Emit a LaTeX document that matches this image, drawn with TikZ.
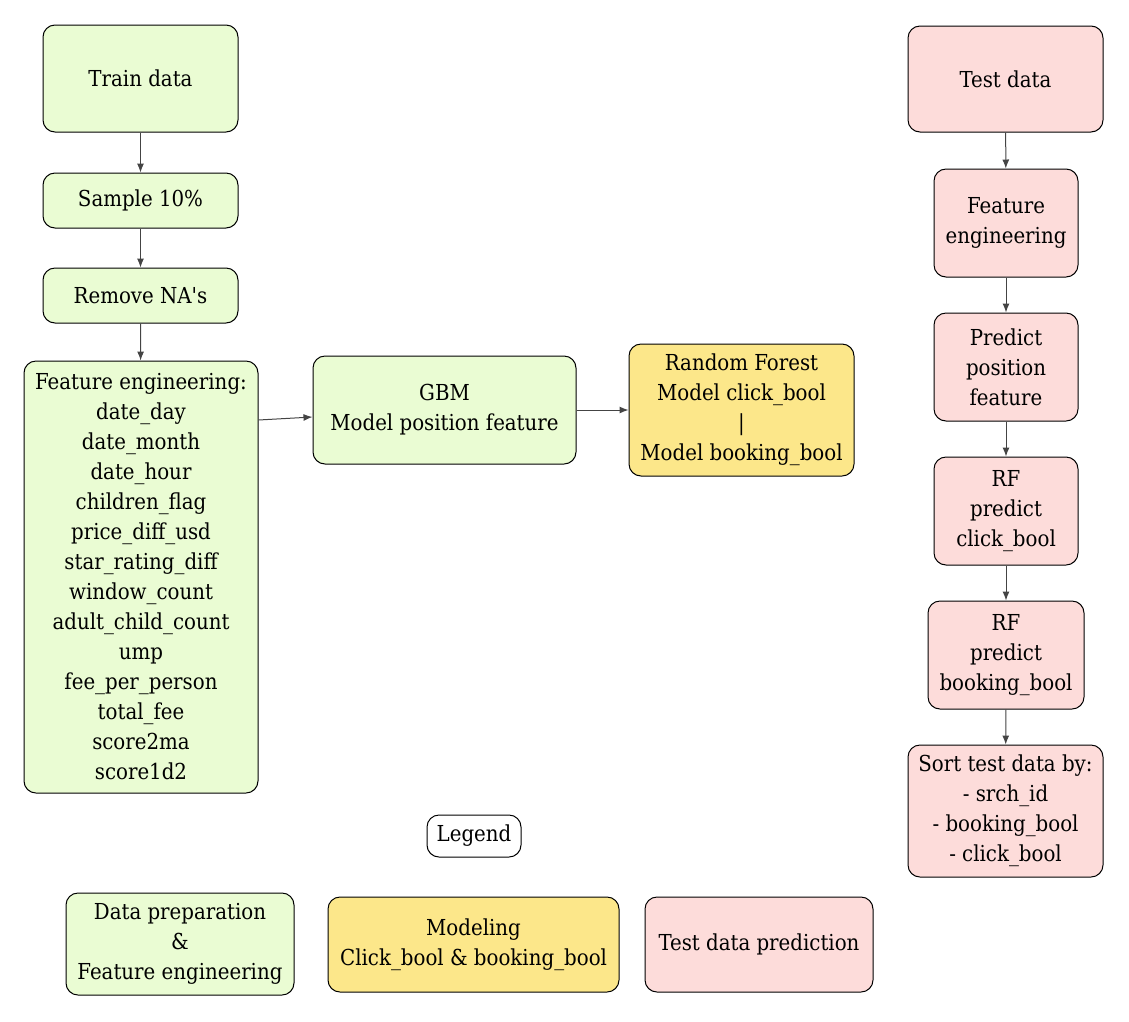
\documentclass[tikz,border=0pt]{standalone}
\usepackage{fontspec}
\setmainfont{DejaVu Serif Condensed}
\usetikzlibrary{arrows.meta}
\definecolor{prepgreen}{RGB}{234,252,211}
\definecolor{modelyellow}{RGB}{252,231,138}
\definecolor{testpink}{RGB}{253,220,218}
\definecolor{edgegray}{RGB}{68,68,68}
\tikzset{
  box/.style={draw=black, line width=1pt, rounded corners=12pt, align=center,
    font=\fontsize{22}{30}\selectfont, inner sep=0pt},
  prep/.style={box, fill=prepgreen},
  modl/.style={box, fill=modelyellow},
  tst/.style={box, fill=testpink},
  flow/.style={draw=edgegray, line width=1pt, -{Latex[length=9pt,width=7pt]}},
}
\begin{document}
\begin{tikzpicture}[x=1pt, y=-1pt]
\useasboundingbox (0,0) rectangle (1129,1021);
% data preparation column
\node[prep, minimum width=195pt, minimum height=107pt] (train) at (140.5,78.5) {Train data};
\node[prep, minimum width=195pt, minimum height=55pt] (sample) at (140.5,200.5) {Sample 10\%};
\node[prep, minimum width=195pt, minimum height=55pt] (nas) at (140.5,295.5) {Remove NA\textquotesingle s};
\node[prep, minimum width=234pt, minimum height=432pt] (feat) at (141,577)
  {Feature engineering:\\date\_day\\date\_month\\date\_hour\\children\_flag\\price\_diff\_usd\\star\_rating\_diff\\window\_count\\adult\_child\_count\\ump\\fee\_per\_person\\total\_fee\\score2ma\\score1d2};
\node[prep, minimum width=263pt, minimum height=108pt] (gbm) at (444.5,410) {GBM\\Model position feature};
% modeling
\node[modl, minimum width=225pt, minimum height=132pt] (rf) at (741.5,410)
  {Random Forest\\Model click\_bool\\|\\Model booking\_bool};
% test data column
\node[tst, minimum width=195pt, minimum height=106pt] (test) at (1005.5,79) {Test data};
\node[tst, minimum width=144pt, minimum height=108pt] (tfeat) at (1006,223) {Feature\\engineering};
\node[tst, minimum width=144pt, minimum height=108pt] (ppos) at (1006,367) {Predict\\position\\feature};
\node[tst, minimum width=144pt, minimum height=108pt] (pclick) at (1006,511) {RF\\predict\\click\_bool};
\node[tst, minimum width=156pt, minimum height=108pt] (pbook) at (1006,655) {RF\\predict\\booking\_bool};
\node[tst, minimum width=195pt, minimum height=132pt] (sort) at (1005.5,811)
  {Sort test data by:\\- srch\_id\\- booking\_bool\\- click\_bool};
% legend
\node[box, fill=white, minimum width=94pt, minimum height=42pt] (legend) at (474,836) {Legend};
\node[prep, minimum width=228pt, minimum height=102pt] (lprep) at (180,944) {Data preparation\\\&\\Feature engineering};
\node[modl, minimum width=291pt, minimum height=95pt] (lmodl) at (473.5,944.5) {Modeling\\Click\_bool \& booking\_bool};
\node[tst, minimum width=228pt, minimum height=95pt] (ltst) at (759,944.5) {Test data prediction};
% connectors
\draw[flow] (train) -- (sample);
\draw[flow] (sample) -- (nas);
\draw[flow] (nas) -- (feat);
\draw[flow] (feat.east |- 0,420) -- (gbm.west |- 0,417);
\draw[flow] (gbm) -- (rf);
\draw[flow] (test) -- (tfeat);
\draw[flow] (tfeat) -- (ppos);
\draw[flow] (ppos) -- (pclick);
\draw[flow] (pclick) -- (pbook);
\draw[flow] (pbook) -- (sort);
\end{tikzpicture}
\end{document}
